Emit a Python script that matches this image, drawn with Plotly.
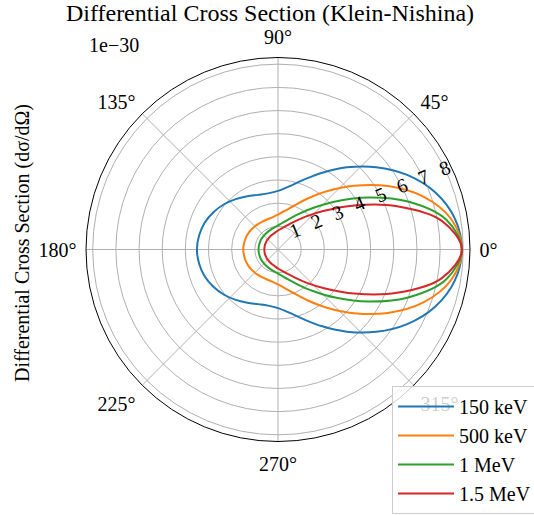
import plotly.graph_objects as go

# Scattering angle (degrees)
theta_deg = [0, 10, 20, 30, 40, 50, 60, 70, 80, 90, 100, 110, 120, 130, 140, 150, 160, 170,
             180, 190, 200, 210, 220, 230, 240, 250, 260, 270, 280, 290, 300, 310, 320, 330, 340, 350, 360]

# Differential cross section values (x 1e-30)
kev150 = [7.94, 7.75, 7.22, 6.44, 5.53, 4.63, 3.83, 3.20, 2.77, 2.53, 2.46, 2.51, 2.65, 2.84, 3.04, 3.22, 3.37, 3.46,
          3.50, 3.46, 3.37, 3.22, 3.04, 2.84, 2.65, 2.51, 2.46, 2.53, 2.77, 3.20, 3.83, 4.63, 5.53, 6.44, 7.22, 7.75, 7.94]
kev500 = [7.94, 7.59, 6.68, 5.48, 4.28, 3.28, 2.53, 2.01, 1.69, 1.51, 1.41, 1.38, 1.38, 1.40, 1.43, 1.46, 1.48, 1.49,
          1.50, 1.49, 1.48, 1.46, 1.43, 1.40, 1.38, 1.38, 1.41, 1.51, 1.69, 2.01, 2.53, 3.28, 4.28, 5.48, 6.68, 7.59, 7.94]
mev1 = [7.94, 7.38, 6.02, 4.50, 3.23, 2.34, 1.76, 1.40, 1.18, 1.04, 0.96, 0.91, 0.88, 0.86, 0.85, 0.85, 0.84, 0.84,
        0.84, 0.84, 0.84, 0.85, 0.85, 0.86, 0.88, 0.91, 0.96, 1.04, 1.18, 1.40, 1.76, 2.34, 3.23, 4.50, 6.02, 7.38, 7.94]
mev15 = [7.94, 7.17, 5.47, 3.81, 2.60, 1.85, 1.38, 1.10, 0.93, 0.82, 0.74, 0.69, 0.66, 0.63, 0.62, 0.60, 0.60, 0.59,
         0.59, 0.59, 0.60, 0.60, 0.62, 0.63, 0.66, 0.69, 0.74, 0.82, 0.93, 1.10, 1.38, 1.85, 2.60, 3.81, 5.47, 7.17, 7.94]

series = [("150 keV", kev150, "#1f77b4"),
          ("500 keV", kev500, "#ff7f0e"),
          ("1 MeV", mev1, "#2ca02c"),
          ("1.5 MeV", mev15, "#d62728")]

radial_ticks = [1, 2, 3, 4, 5, 6, 7, 8]
angle_ticks = [0, 45, 90, 135, 180, 225, 270, 315]
angle_labels = ["0°", "45°", "90°", "135°", "180°", "225°", "270°", "315°"]

FONT = "Liberation Serif"
FS = 20

fig = go.Figure()
for i, (name, vals, color) in enumerate(series):
    fig.add_trace(go.Scatterpolar(
        r=vals, theta=theta_deg, mode="lines", name=name,
        line=dict(color=color, width=2, shape="spline", smoothing=1.0),
        legendgroup=f"g{i}",
    ))

W, H = 534, 515
cx, cy, R = 278, 249.5, 192
fig.update_layout(
    width=W, height=H,
    margin=dict(l=0, r=0, t=0, b=0, autoexpand=False),
    paper_bgcolor="white",
    font=dict(family=FONT, size=FS, color="black"),
    title=dict(text="Differential Cross Section (Klein-Nishina)", x=270 / W, xanchor="center",
               y=1 - 13 / H, yanchor="middle", font=dict(family=FONT, size=24, color="black")),
    polar=dict(
        domain=dict(x=[(cx - R) / W, (cx + R) / W], y=[(H - (cy + R)) / H, (H - (cy - R)) / H]),
        bgcolor="white",
        radialaxis=dict(range=[0, 8.29], tickvals=radial_ticks, angle=22.5, side="counterclockwise",
                        tickangle=0, showline=False, ticks="", gridcolor="#b0b0b0", gridwidth=1,
                        tickfont=dict(family=FONT, size=FS, color="black")),
        angularaxis=dict(tickvals=angle_ticks, ticktext=angle_labels, direction="counterclockwise",
                         rotation=0, ticks="outside", ticklen=5, tickcolor="rgba(0,0,0,0)",
                         showline=True, linecolor="black", linewidth=1,
                         gridcolor="#b0b0b0", gridwidth=1,
                         tickfont=dict(family=FONT, size=FS, color="black")),
    ),
    showlegend=True,
    legend=dict(x=392 / W, y=1 - 386 / H, xanchor="left", yanchor="top",
                bgcolor="rgba(255,255,255,0.8)", bordercolor="#cccccc", borderwidth=1,
                font=dict(family=FONT, size=FS, color="black"), itemwidth=56,
                traceorder="grouped", tracegroupgap=0),
    annotations=[
        dict(text="1e\u221230", x=87 / W, y=1 - 45 / H, xref="paper", yref="paper",
             xanchor="left", yanchor="middle", showarrow=False,
             font=dict(family=FONT, size=FS, color="black")),
        dict(text="Differential Cross Section (dσ/dΩ)", x=22 / W, y=1 - 243 / H, xref="paper", yref="paper",
             xanchor="center", yanchor="middle", showarrow=False, textangle=-90,
             font=dict(family=FONT, size=FS, color="black")),
    ],
)

fig.write_html("out.html")
